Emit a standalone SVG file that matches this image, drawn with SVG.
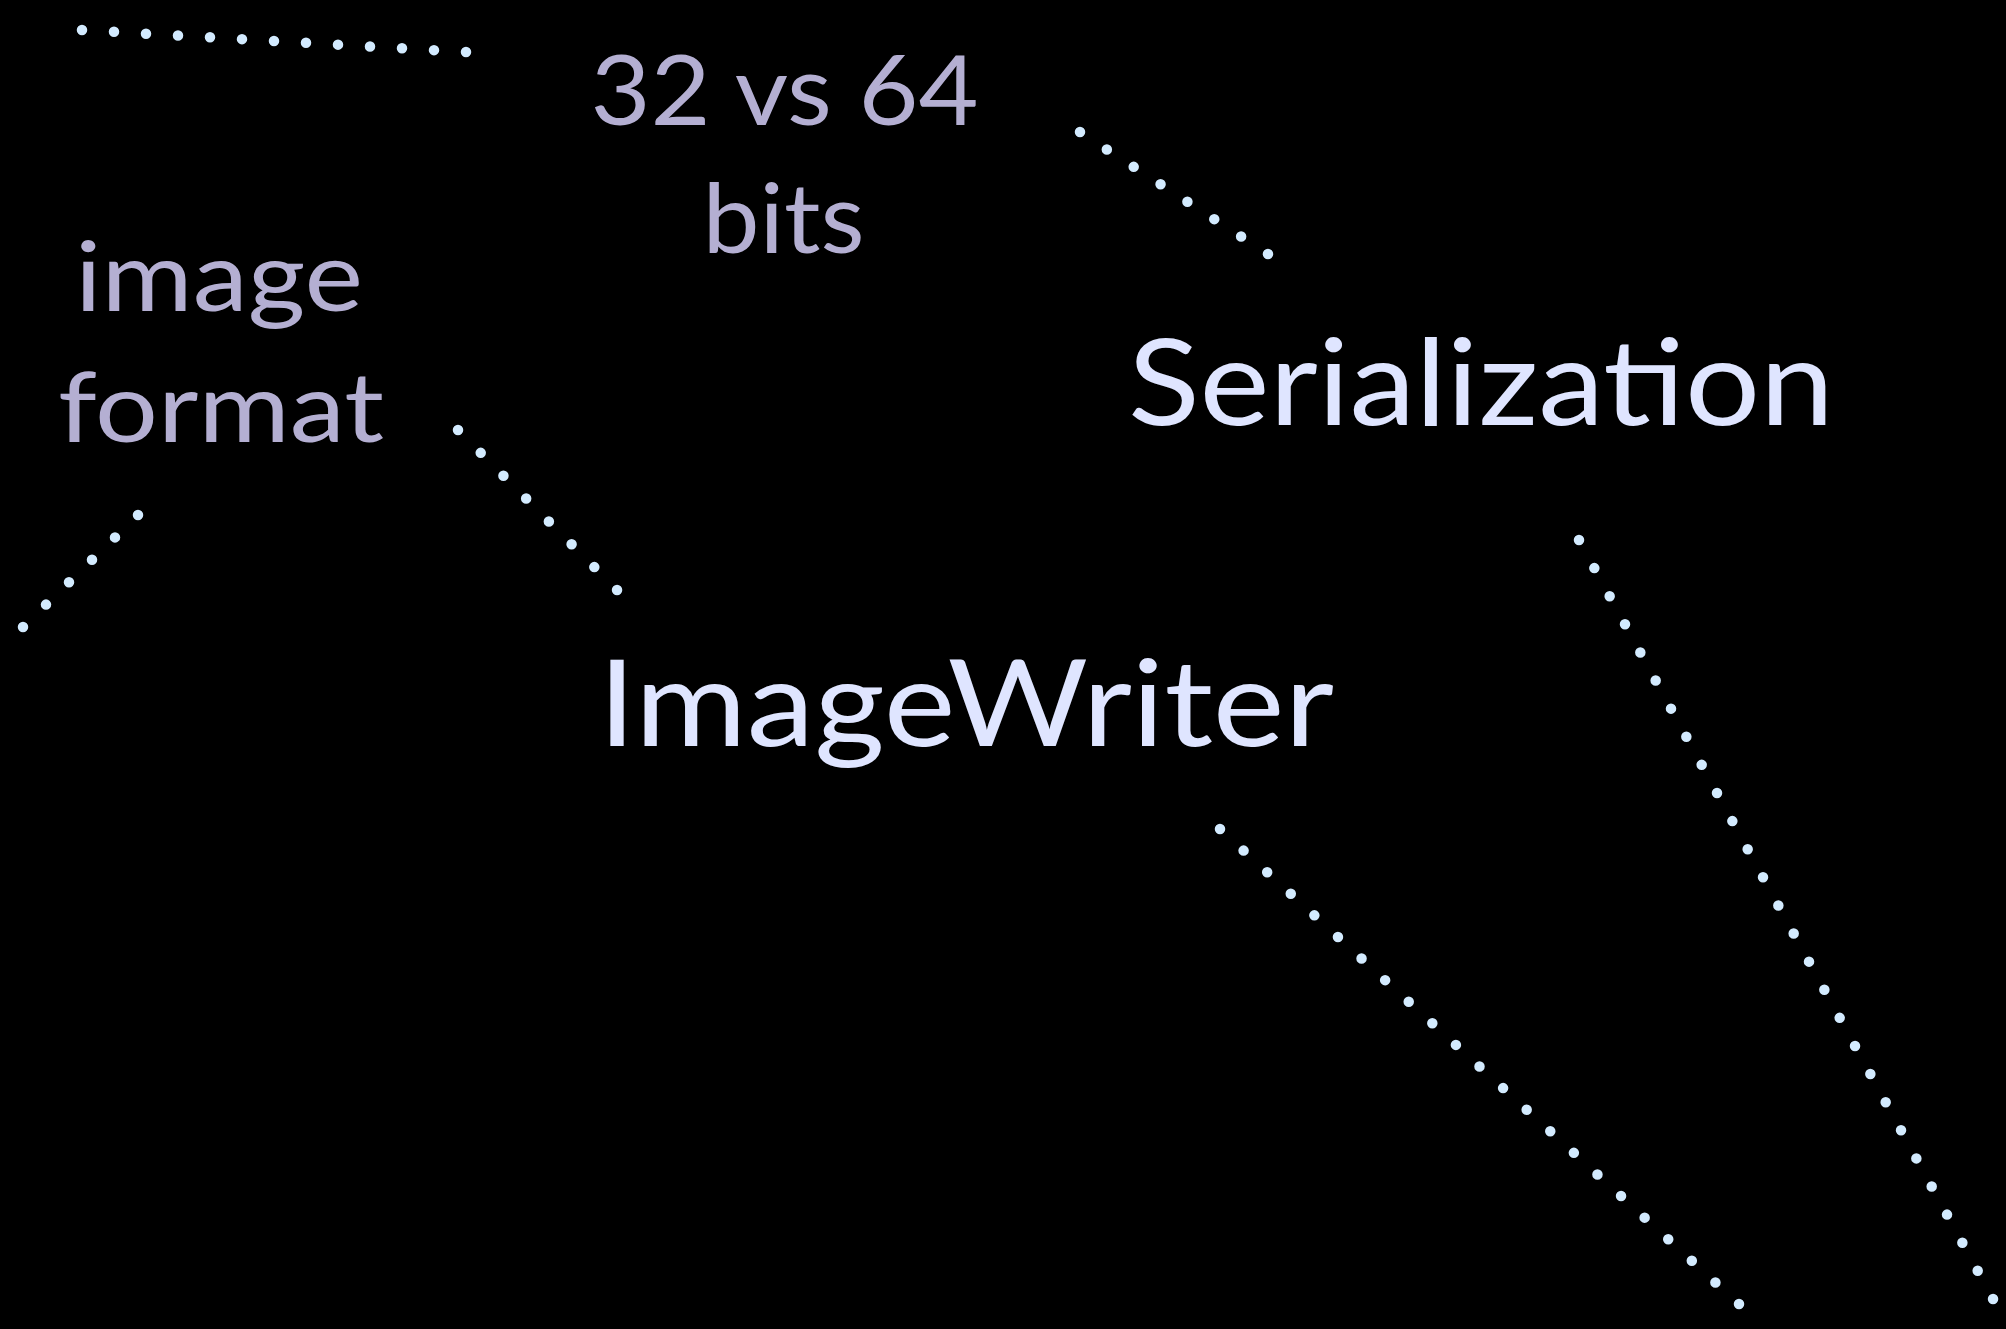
<svg xmlns="http://www.w3.org/2000/svg" width="2006" height="1329" viewBox="0 0 2006 1329">
<style>
.bg{fill:#000}
.lbl{font-family:"Lato","Liberation Sans",sans-serif;text-anchor:middle}
.minor{fill:#b4afd2;font-size:96px}
.major{fill:#dfe5ff;font-size:120px}
.dot{fill:none;stroke:#d3ebff;stroke-width:10.5;stroke-linecap:round;stroke-dasharray:0 1}
</style>
<rect class="bg" x="0" y="0" width="2006" height="1329"/>
<g id="connectors">
<line class="dot" x1="82" y1="30" x2="482" y2="52.9" pathLength="12.5"/>
<line class="dot" x1="458" y1="430" x2="628.4" y2="601.4" pathLength="7.5"/>
<line class="dot" x1="138" y1="515" x2="11.5" y2="638.2" pathLength="5.5"/>
<line class="dot" x1="1080" y1="132" x2="1281.4" y2="262.7" pathLength="7.5"/>
<line class="dot" x1="1579" y1="540" x2="2000.7" y2="1313" pathLength="27.5"/>
<line class="dot" x1="1220" y1="829" x2="1750.8" y2="1314.8" pathLength="22.5"/>
</g>
<g id="node-bits">
<text class="lbl minor" x="784.5" y="125" textLength="388" lengthAdjust="spacingAndGlyphs">32 vs 64</text>
<text class="lbl minor" x="783.5" y="253" textLength="162" lengthAdjust="spacingAndGlyphs">bits</text>
</g>
<g id="node-image-format">
<text class="lbl minor" x="219" y="311" textLength="288" lengthAdjust="spacingAndGlyphs">image</text>
<text class="lbl minor" x="221" y="442" textLength="326" lengthAdjust="spacingAndGlyphs">format</text>
</g>
<g id="node-serialization">
<text class="lbl major" x="1481" y="425" textLength="706" lengthAdjust="spacingAndGlyphs">Serialization</text>
</g>
<g id="node-imagewriter">
<text class="lbl major" x="966" y="746" textLength="736" lengthAdjust="spacingAndGlyphs">ImageWriter</text>
</g>
</svg>
